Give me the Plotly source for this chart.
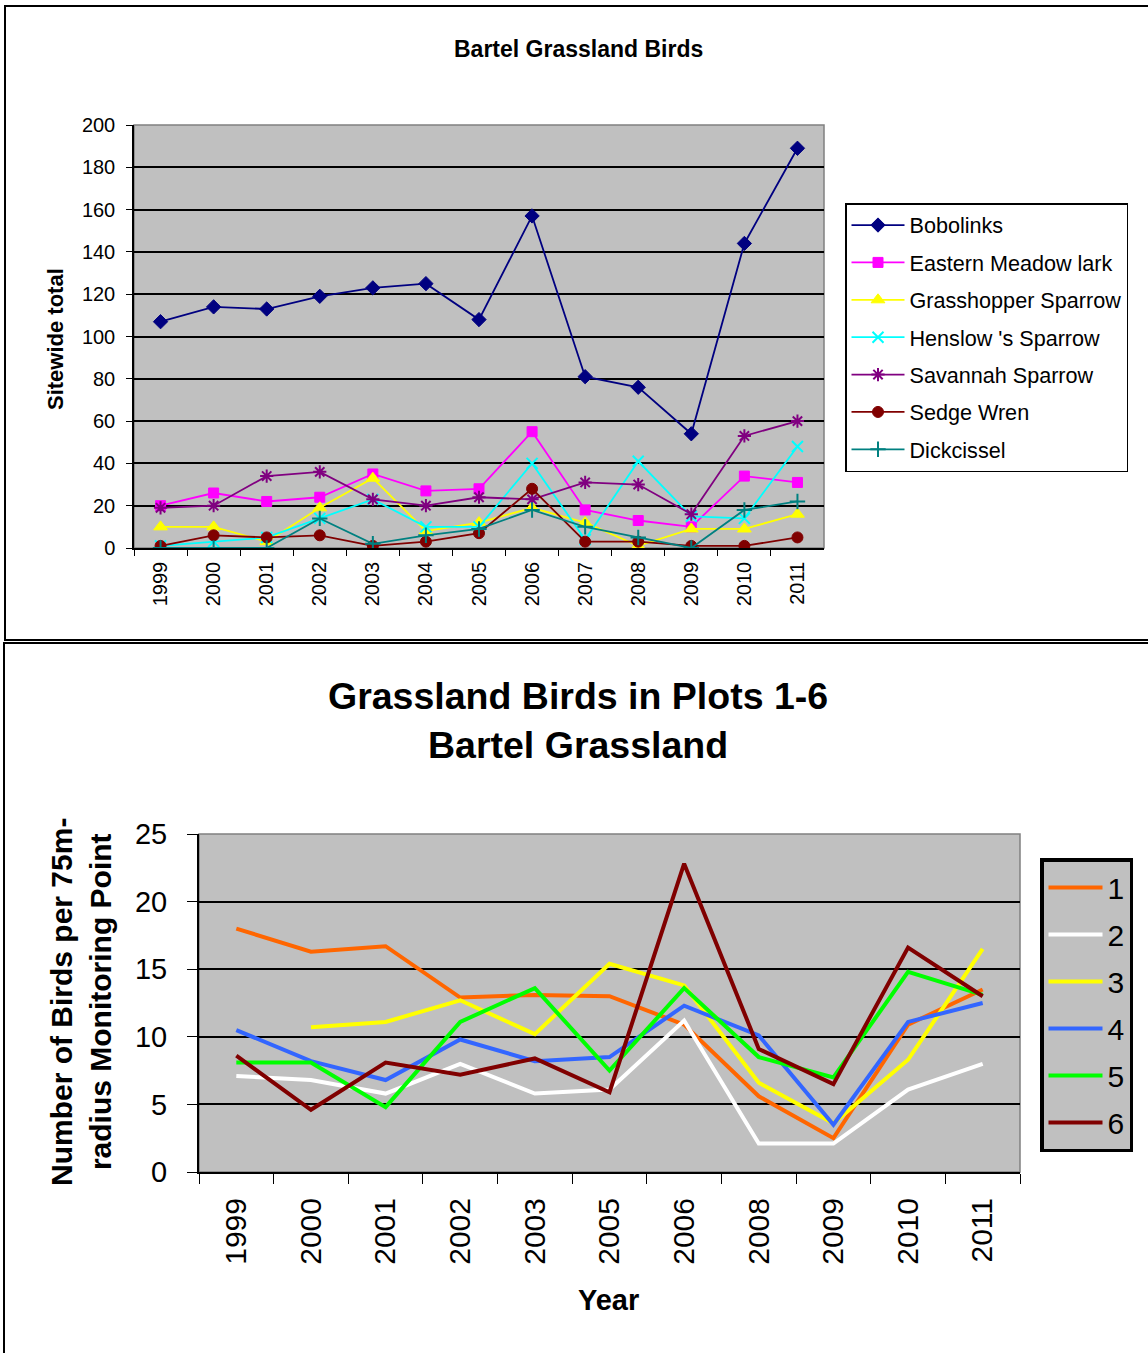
import plotly.graph_objects as go

# ---- Bartel Grassland Birds: sitewide totals ----
years_top = ["1999", "2000", "2001", "2002", "2003", "2004", "2005",
             "2006", "2007", "2008", "2009", "2010", "2011"]
bobolinks = [107, 114, 113, 119, 123, 125, 108, 157, 81, 76, 54, 144, 189]
eastern_meadowlark = [20, 26, 22, 24, 35, 27, 28, 55, 18, 13, 10, 34, 31]
grasshopper_sparrow = [10, 10, 3, 19, 33, 8, 12, 19, 12, 1, 9, 9, 16]
henslows_sparrow = [1, 3, 5, 14, 23, 10, 10, 40, 4, 41, 15, 14, 48]
savannah_sparrow = [19, 20, 34, 36, 23, 20, 24, 23, 31, 30, 16, 53, 60]
sedge_wren = [1, 6, 5, 6, 1, 3, 7, 28, 3, 3, 1, 1, 5]
dickcissel = [0, 0, 0, 14, 2, 6, 9, 18, 10, 5, 0, 18, 22]

# ---- Grassland birds per monitoring point, plots 1-6 ----
years_plots = ["1999", "2000", "2001", "2002", "2003", "2005",
               "2006", "2008", "2009", "2010", "2011"]
plot_1 = [18.0, 16.3, 16.7, 12.9, 13.1, 13.0, 10.9, 5.6, 2.5, 10.9, 13.5]
plot_2 = [7.1, 6.8, 5.8, 8.0, 5.8, 6.1, 11.2, 2.1, 2.1, 6.1, 8.0]
plot_3 = [None, 10.7, 11.1, 12.7, 10.2, 15.4, 13.8, 6.6, 3.6, 8.3, 16.5]
plot_4 = [10.5, 8.2, 6.8, 9.8, 8.2, 8.5, 12.3, 10.1, 3.5, 11.1, 12.5]
plot_5 = [8.1, 8.1, 4.8, 11.1, 13.6, 7.5, 13.6, 8.5, 7.0, 14.8, 13.1]
plot_6 = [8.6, 4.6, 8.1, 7.2, 8.4, 5.9, 22.8, 9.1, 6.5, 16.6, 13.0]

W, H = 1148, 1353
FONT = "Liberation Sans, Arial, sans-serif"
GRAY = "#C0C0C0"


def px(x):
    return x / W


def py(y):
    return 1 - y / H


fig = go.Figure()

species = [
    ("Bobolinks", bobolinks, "#000080", "diamond", 11, 1),
    ("Eastern Meadow lark", eastern_meadowlark, "#FF00FF", "square", 10, 1),
    ("Grasshopper Sparrow", grasshopper_sparrow, "#FFFF00", "triangle-up", 12, 1),
    ("Henslow 's Sparrow", henslows_sparrow, "#00FFFF", "x-thin-open", 11, 2),
    ("Savannah Sparrow", savannah_sparrow, "#800080", "asterisk-open", 11, 2),
    ("Sedge Wren", sedge_wren, "#800000", "circle", 11, 1),
    ("Dickcissel", dickcissel, "#008080", "cross-thin-open", 11, 2),
]
for i, (name, vals, col, sym, size, mlw) in enumerate(species):
    fig.add_trace(go.Scatter(
        x=years_top, y=vals, name=name, mode="lines+markers",
        line=dict(color=col, width=1.8),
        marker=dict(symbol=sym, size=size, color=col,
                    line=dict(color=col, width=mlw)),
        xaxis="x", yaxis="y", legend="legend", legendgroup=f"s{i}",
    ))

plots = [
    ("1", plot_1, "#FF6600"),
    ("2", plot_2, "#FFFFFF"),
    ("3", plot_3, "#FFFF00"),
    ("4", plot_4, "#3366FF"),
    ("5", plot_5, "#00FF00"),
    ("6", plot_6, "#800000"),
]
for i, (name, vals, col) in enumerate(plots):
    fig.add_trace(go.Scatter(
        x=years_plots, y=vals, name=name, mode="lines",
        line=dict(color=col, width=4), connectgaps=False,
        xaxis="x2", yaxis="y2", legend="legend2", legendgroup=f"p{i}",
    ))

axis_common = dict(showline=True, linecolor="black", ticks="outside",
                   tickcolor="black", zeroline=False, fixedrange=True,
                   automargin=False)

fig.update_layout(
    width=W, height=H, autosize=False,
    margin=dict(l=0, r=0, t=0, b=0, pad=0, autoexpand=False),
    paper_bgcolor="white",
    plot_bgcolor=GRAY,
    font=dict(family=FONT, color="black"),
    xaxis=dict(
        domain=[px(134), px(824)], anchor="y", type="category",
        range=[-0.5, 12.5], tickson="boundaries", tickangle=-90,
        ticklen=6, linewidth=1.5, showgrid=False,
        tickfont=dict(size=20), ticklabelstandoff=4, **axis_common,
    ),
    yaxis=dict(
        domain=[py(548), py(125)], anchor="x", range=[0, 200], dtick=20,
        ticklen=6, linewidth=1.5, showgrid=True, gridcolor="black",
        gridwidth=1.5, tickfont=dict(size=20), ticklabelstandoff=7,
        **axis_common,
    ),
    xaxis2=dict(
        domain=[px(199), px(1020)], anchor="y2", type="category",
        range=[-0.5, 10.5], tickson="boundaries", tickangle=-90,
        ticklen=10, linewidth=2, showgrid=False,
        tickfont=dict(size=30), ticklabelstandoff=12, **axis_common,
    ),
    yaxis2=dict(
        domain=[py(1172), py(834)], anchor="x2", range=[0, 25], dtick=5,
        ticklen=10, linewidth=2, showgrid=True, gridcolor="black",
        gridwidth=2, tickfont=dict(size=29), ticklabelstandoff=14,
        **axis_common,
    ),
    legend=dict(
        x=px(845), y=py(203), xanchor="left", yanchor="top",
        bgcolor="white", bordercolor="black", borderwidth=1.5,
        font=dict(size=21.6), traceorder="grouped", tracegroupgap=6.3,
        itemwidth=53,
    ),
    legend2=dict(
        x=px(1040), y=py(858), xanchor="left", yanchor="top",
        bgcolor=GRAY, bordercolor="black", borderwidth=3.5,
        font=dict(size=30), traceorder="grouped", tracegroupgap=5,
        itemwidth=54,
    ),
    showlegend=True,
)

# chart frames and plot-area borders
shapes = [
    dict(type="rect", xref="paper", yref="paper",
         x0=px(5), x1=1.02, y0=py(640), y1=py(6),
         line=dict(color="black", width=2)),
    dict(type="rect", xref="paper", yref="paper",
         x0=px(4), x1=1.02, y0=-0.02, y1=py(643),
         line=dict(color="black", width=2)),
    dict(type="rect", xref="paper", yref="paper", layer="below",
         x0=px(134), x1=px(824), y0=py(548), y1=py(125),
         line=dict(color="#808080", width=1.5)),
    dict(type="rect", xref="paper", yref="paper", layer="below",
         x0=px(199), x1=px(1020), y0=py(1172), y1=py(834),
         line=dict(color="#808080", width=1.5)),
]
fig.update_layout(shapes=shapes)

annotations = [
    dict(text="<b>Bartel Grassland Birds</b>", x=px(578), y=py(49),
         font=dict(size=23)),
    dict(text="<b>Sitewide total</b>", x=px(56), y=py(339), textangle=-90,
         font=dict(size=22)),
    dict(text="<b>Grassland Birds in Plots 1-6<br>Bartel Grassland</b>",
         x=px(578), y=py(721), font=dict(size=37.5)),
    dict(text="<b>Number of Birds per 75m-<br>radius Monitoring Point</b>",
         x=px(81), y=py(1002), textangle=-90, font=dict(size=30)),
    dict(text="<b>Year</b>", x=px(608), y=py(1300), font=dict(size=29)),
]
for a in annotations:
    a.update(xref="paper", yref="paper", showarrow=False,
             xanchor="center", yanchor="middle")
fig.update_layout(annotations=annotations)

fig.write_html("out.html")
